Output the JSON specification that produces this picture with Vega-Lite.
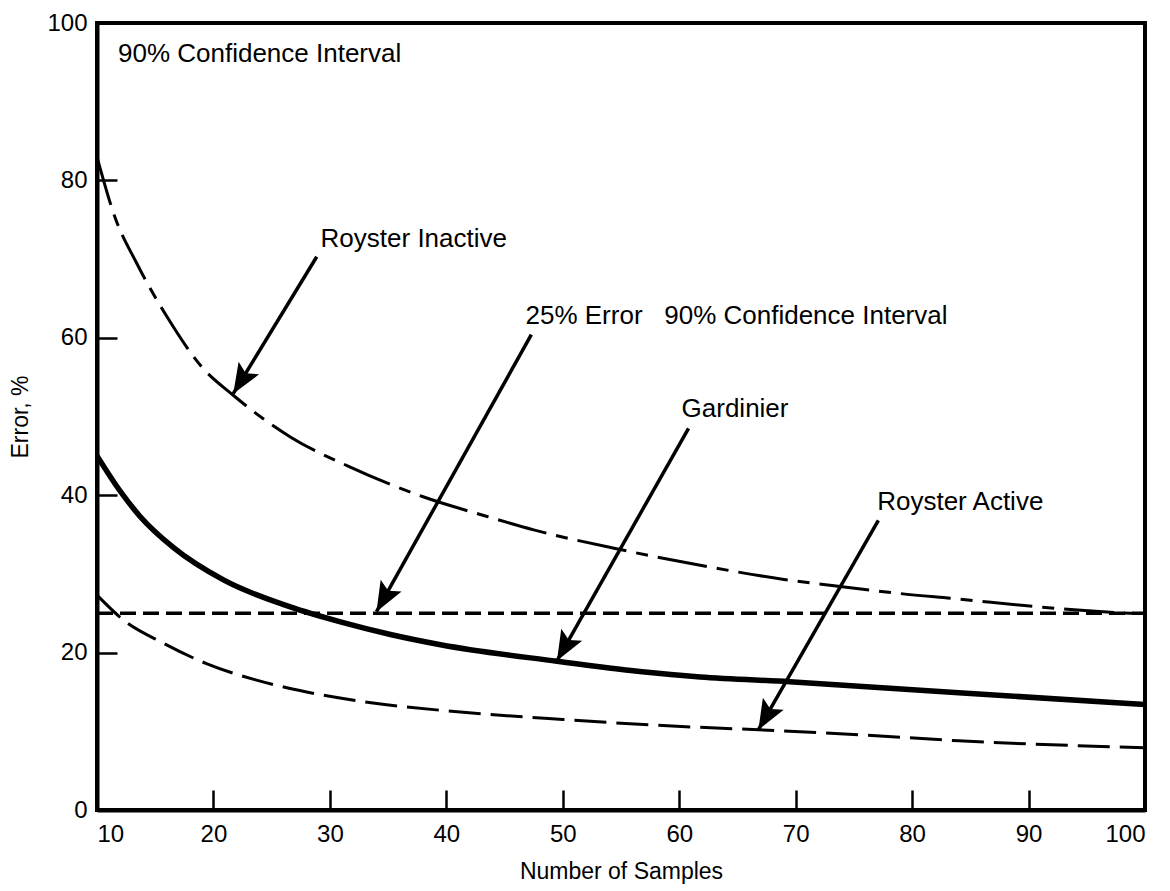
{
  "$schema": "https://vega.github.io/schema/vega-lite/v6.json",
  "autosize": {"type": "none"},
  "width": 1048,
  "height": 787,
  "padding": {"left": 97, "top": 23, "right": 25, "bottom": 81},
  "background": "white",
  "config": {
    "view": {"stroke": "black", "strokeWidth": 4},
    "font": "Liberation Sans",
    "axis": {
      "grid": false,
      "domainColor": "black",
      "domainWidth": 4,
      "tickColor": "black",
      "tickWidth": 2.5,
      "tickSize": -20,
      "labelColor": "black",
      "labelFont": "Liberation Sans",
      "labelFontSize": 24,
      "titleColor": "black",
      "titleFont": "Liberation Sans",
      "titleFontSize": 23,
      "titleFontWeight": "normal"
    }
  },
  "datasets": {
    "curves": [
      {"series": "Royster Inactive", "n": 10, "error": 83},
      {"series": "Royster Inactive", "n": 11.55, "error": 75.3},
      {"series": "Royster Inactive", "n": 13.4, "error": 69.5},
      {"series": "Royster Inactive", "n": 16, "error": 62.7},
      {"series": "Royster Inactive", "n": 19, "error": 56.3},
      {"series": "Royster Inactive", "n": 21.7, "error": 52.7},
      {"series": "Royster Inactive", "n": 26.6, "error": 47.4},
      {"series": "Royster Inactive", "n": 31.7, "error": 43.6},
      {"series": "Royster Inactive", "n": 38, "error": 39.8},
      {"series": "Royster Inactive", "n": 43.5, "error": 37.3},
      {"series": "Royster Inactive", "n": 47.5, "error": 35.6},
      {"series": "Royster Inactive", "n": 54.6, "error": 33.2},
      {"series": "Royster Inactive", "n": 61.8, "error": 31.1},
      {"series": "Royster Inactive", "n": 69, "error": 29.3},
      {"series": "Royster Inactive", "n": 73.3, "error": 28.5},
      {"series": "Royster Inactive", "n": 79, "error": 27.5},
      {"series": "Royster Inactive", "n": 83.3, "error": 26.9},
      {"series": "Royster Inactive", "n": 94.2, "error": 25.4},
      {"series": "Royster Inactive", "n": 100, "error": 24.9},
      {"series": "25% Error", "n": 10, "error": 25},
      {"series": "25% Error", "n": 100, "error": 25},
      {"series": "Gardinier", "n": 10, "error": 45},
      {"series": "Gardinier", "n": 12, "error": 40.5},
      {"series": "Gardinier", "n": 13.7, "error": 37.3},
      {"series": "Gardinier", "n": 16.6, "error": 33.3},
      {"series": "Gardinier", "n": 20.9, "error": 29.2},
      {"series": "Gardinier", "n": 26.6, "error": 25.8},
      {"series": "Gardinier", "n": 30.9, "error": 23.9},
      {"series": "Gardinier", "n": 35.2, "error": 22.3},
      {"series": "Gardinier", "n": 39.5, "error": 21.0},
      {"series": "Gardinier", "n": 49.5, "error": 18.9},
      {"series": "Gardinier", "n": 56.6, "error": 17.6},
      {"series": "Gardinier", "n": 61.8, "error": 16.9},
      {"series": "Gardinier", "n": 69.5, "error": 16.3},
      {"series": "Gardinier", "n": 84, "error": 14.9},
      {"series": "Gardinier", "n": 100, "error": 13.4},
      {"series": "Royster Active", "n": 10, "error": 27.3},
      {"series": "Royster Active", "n": 12.3, "error": 24.1},
      {"series": "Royster Active", "n": 15.7, "error": 21.2},
      {"series": "Royster Active", "n": 19.4, "error": 18.6},
      {"series": "Royster Active", "n": 23.7, "error": 16.5},
      {"series": "Royster Active", "n": 28, "error": 15.0},
      {"series": "Royster Active", "n": 33.7, "error": 13.6},
      {"series": "Royster Active", "n": 40, "error": 12.6},
      {"series": "Royster Active", "n": 50, "error": 11.5},
      {"series": "Royster Active", "n": 61.8, "error": 10.5},
      {"series": "Royster Active", "n": 66.8, "error": 10.2},
      {"series": "Royster Active", "n": 76.1, "error": 9.5},
      {"series": "Royster Active", "n": 84, "error": 8.8},
      {"series": "Royster Active", "n": 100, "error": 7.9}
    ],
    "arrows": [
      {"name": "Royster Inactive", "n": 28.87, "error": 70.3, "n2": 21.7, "error2": 52.9},
      {"name": "25% Error", "n": 47.3, "error": 60.4, "n2": 34.0, "error2": 25.2},
      {"name": "Gardinier", "n": 60.8, "error": 48.5, "n2": 49.5, "error2": 18.95},
      {"name": "Royster Active", "n": 77.1, "error": 36.8, "n2": 66.8, "error2": 10.2}
    ],
    "notes": [
      {"label": "90% Confidence Interval", "n": 11.8, "error": 95.1},
      {"label": "Royster Inactive", "n": 29.2, "error": 71.6},
      {"label": "25% Error\u00a0\u00a0 90% Confidence Interval", "n": 46.8, "error": 61.8},
      {"label": "Gardinier", "n": 60.2, "error": 50.0},
      {"label": "Royster Active", "n": 77.0, "error": 38.1}
    ]
  },
  "encoding": {
    "x": {
      "field": "n", "type": "quantitative",
      "scale": {"domain": [10, 100], "nice": false, "zero": false},
      "axis": {"values": [10, 20, 30, 40, 50, 60, 70, 80, 90, 100], "format": "d", "labelPadding": 32, "title": "Number of Samples", "titlePadding": 14}
    },
    "y": {
      "field": "error", "type": "quantitative",
      "scale": {"domain": [0, 100], "nice": false},
      "axis": {"values": [0, 20, 40, 60, 80, 100], "format": "d", "labelPadding": 30, "title": "Error, %", "titlePadding": 14}
    }
  },
  "layer": [
    {
      "data": {"name": "curves"},
      "transform": [{"filter": "datum.series === 'Royster Inactive'"}],
      "mark": {"type": "line", "color": "black", "strokeWidth": 3, "strokeDash": [50, 10, 12, 10], "interpolate": "monotone"}
    },
    {
      "data": {"name": "curves"},
      "transform": [{"filter": "datum.series === '25% Error'"}],
      "mark": {"type": "line", "color": "black", "strokeWidth": 3.5, "strokeDash": [16, 7]}
    },
    {
      "data": {"name": "curves"},
      "transform": [{"filter": "datum.series === 'Gardinier'"}],
      "mark": {"type": "line", "color": "black", "strokeWidth": 5.5, "interpolate": "monotone"}
    },
    {
      "data": {"name": "curves"},
      "transform": [{"filter": "datum.series === 'Royster Active'"}],
      "mark": {"type": "line", "color": "black", "strokeWidth": 3, "strokeDash": [32, 10], "interpolate": "monotone"}
    },
    {
      "data": {"name": "arrows"},
      "mark": {"type": "rule", "color": "black", "strokeWidth": 3.5},
      "encoding": {"x2": {"field": "n2"}, "y2": {"field": "error2"}}
    },
    {
      "data": {"name": "arrows"},
      "transform": [{"filter": "datum.name === 'Royster Inactive'"}],
      "mark": {"type": "point", "shape": "M0,0 L0.4,1 L0,0.8 L-0.4,1 Z", "filled": true, "fill": "black", "opacity": 1, "size": 3600, "angle": 211.4},
      "encoding": {"x": {"field": "n2", "type": "quantitative"}, "y": {"field": "error2", "type": "quantitative"}}
    },
    {
      "data": {"name": "arrows"},
      "transform": [{"filter": "datum.name === '25% Error'"}],
      "mark": {"type": "point", "shape": "M0,0 L0.4,1 L0,0.8 L-0.4,1 Z", "filled": true, "fill": "black", "opacity": 1, "size": 3600, "angle": 209.3},
      "encoding": {"x": {"field": "n2", "type": "quantitative"}, "y": {"field": "error2", "type": "quantitative"}}
    },
    {
      "data": {"name": "arrows"},
      "transform": [{"filter": "datum.name === 'Gardinier'"}],
      "mark": {"type": "point", "shape": "M0,0 L0.4,1 L0,0.8 L-0.4,1 Z", "filled": true, "fill": "black", "opacity": 1, "size": 3600, "angle": 209.5},
      "encoding": {"x": {"field": "n2", "type": "quantitative"}, "y": {"field": "error2", "type": "quantitative"}}
    },
    {
      "data": {"name": "arrows"},
      "transform": [{"filter": "datum.name === 'Royster Active'"}],
      "mark": {"type": "point", "shape": "M0,0 L0.4,1 L0,0.8 L-0.4,1 Z", "filled": true, "fill": "black", "opacity": 1, "size": 3600, "angle": 209.8},
      "encoding": {"x": {"field": "n2", "type": "quantitative"}, "y": {"field": "error2", "type": "quantitative"}}
    },
    {
      "data": {"name": "notes"},
      "mark": {"type": "text", "align": "left", "baseline": "alphabetic", "font": "Liberation Sans", "fontSize": 26, "color": "black"},
      "encoding": {"text": {"field": "label"}}
    }
  ]
}
